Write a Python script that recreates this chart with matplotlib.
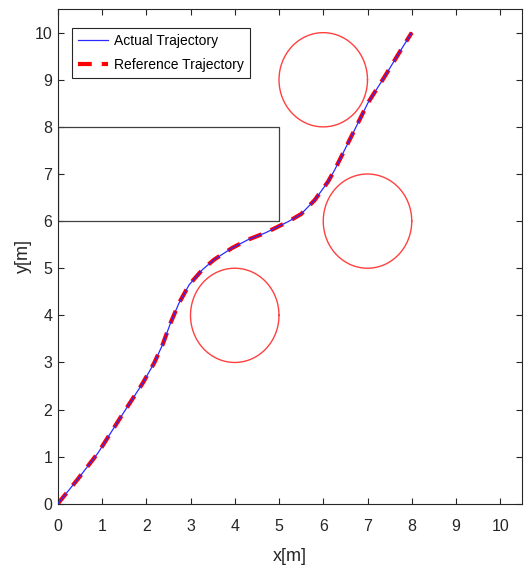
import matplotlib
matplotlib.use("Agg")
import matplotlib.pyplot as plt
import numpy as np

plt.rcParams['font.family'] = ['Liberation Sans', 'DejaVu Sans']

# trajectory
traj_x = [0.0, 0.45, 0.91, 1.43, 1.92, 2.18, 2.37, 2.55, 2.74, 2.97, 3.27, 3.53,
          3.94, 4.31, 4.69, 5.21, 5.50, 5.81, 6.11, 6.26, 6.71, 7.01, 7.39, 7.76, 8.0]
traj_y = [0.0, 0.52, 1.08, 1.85, 2.56, 2.99, 3.38, 3.84, 4.26, 4.65, 4.97, 5.18,
          5.43, 5.61, 5.75, 5.99, 6.15, 6.45, 6.84, 7.09, 7.94, 8.51, 9.07, 9.64, 10.0]

# obstacles
circle_cx = [6, 7, 4]
circle_cy = [9, 6, 4]
circle_r = [1, 1, 1]
rect_x = [0, 5, 5, 0]
rect_y = [6, 6, 8, 8]

fig = plt.figure(figsize=(5.25, 5.68), dpi=100)
ax = fig.add_axes([0.110, 0.113, 0.885, 0.871])

ax.plot(traj_x, traj_y, color='#2a2aff', lw=0.9, label='Actual Trajectory', zorder=3)
ax.plot(traj_x, traj_y, color='red', lw=3.0, ls=(0, (3.3, 2.4)), label='Reference Trajectory', zorder=2)

t = np.linspace(0, 2 * np.pi, 200)
for cx, cy, r in zip(circle_cx, circle_cy, circle_r):
    ax.plot(cx + r * np.cos(t), cy + r * np.sin(t), color='#ff4040', lw=1.0)

ax.plot(rect_x + [rect_x[0]], rect_y + [rect_y[0]], color='#404040', lw=0.9)

ax.set_xlim(0, 10.5)
ax.set_ylim(0, 10.5)
ax.set_xticks(range(0, 11))
ax.set_yticks(range(0, 11))
ax.tick_params(direction='in', top=True, right=True, labelsize=11.5, colors='#262626', length=4)
ax.tick_params(axis='x', pad=11)
ax.tick_params(axis='y', pad=4)
for s in ax.spines.values():
    s.set_color('#262626')
    s.set_linewidth(0.8)
ax.set_xlabel('x[m]', fontsize=13, color='#262626', labelpad=10)
ax.set_ylabel('y[m]', fontsize=13, color='#262626', labelpad=2)

leg = ax.legend(loc='upper left', bbox_to_anchor=(0.015, 0.976), fontsize=10,
                fancybox=False, edgecolor='#262626', framealpha=1, handlelength=2.2,
                borderpad=0.45, labelspacing=0.7, handletextpad=0.4)
leg.get_frame().set_linewidth(0.8)

fig.savefig('out.png', dpi=100)
